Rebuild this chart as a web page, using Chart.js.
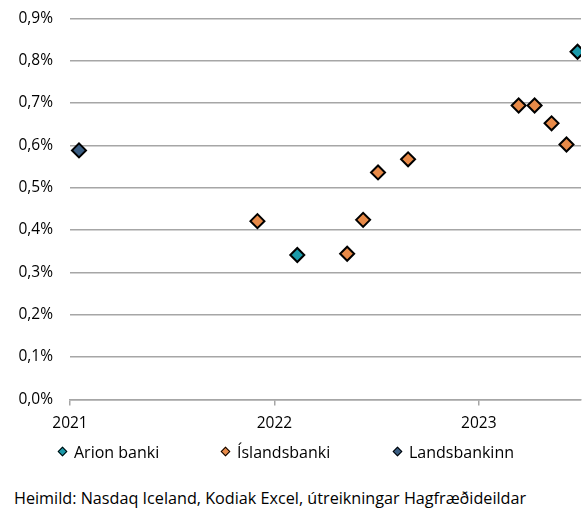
<!DOCTYPE html>
<html>
<head>
<meta charset="utf-8">
<script src="https://cdn.jsdelivr.net/npm/chart.js@4/dist/chart.umd.min.js"></script>
<style>
    body { margin: 0; background: #fff; font-family: "Open Sans", sans-serif; color: #000; }
    #wrap { position: relative; width: 583px; height: 512px; overflow: hidden; }
    #chart-box { position: absolute; left: 0; top: -8px; width: 590px; height: 458px; }
    .legend-item { position: absolute; top: 442px; font-size: 16px; line-height: 20px; white-space: nowrap; }
    .legend-item i {
        position: absolute; left: -15px; top: 6px; width: 5px; height: 5px;
        border: 1.5px solid #000; transform: rotate(45deg);
    }
    #source { position: absolute; left: 14px; top: 488px; font-size: 16.2px; line-height: 20px; white-space: nowrap; }
</style>
</head>
<body>
<div id="wrap">
    <div id="chart-box"><canvas id="chart"></canvas></div>
    <div id="legend"></div>
    <div id="source"></div>
</div>
<script>
// dates (year as decimal) and values in %
const arionDates = [2022.112, 2023.483];
const arionValues = [0.341, 0.821];

const islandsDates = [2021.917, 2022.356, 2022.434, 2022.507, 2022.654, 2023.195, 2023.273, 2023.356, 2023.429];
const islandsValues = [0.421, 0.344, 0.424, 0.536, 0.567, 0.694, 0.694, 0.652, 0.602];

const landsDates = [2021.044];
const landsValues = [0.588];

const yearTicks = [2021, 2022, 2023];
const seriesNames = ['Arion banki', 'Íslandsbanki', 'Landsbankinn'];
const seriesColors = ['#1b9aaa', '#e88a48', '#3a5d82'];
const sourceText = 'Heimild: Nasdaq Iceland, Kodiak Excel, útreikningar Hagfræðideildar';

Chart.defaults.font.family = '"Open Sans", sans-serif';
Chart.defaults.font.size = 15.5;
Chart.defaults.color = '#000';

function toPoints(dates, values) {
    return dates.map((d, i) => ({ x: d, y: values[i] }));
}

function makeSet(label, dates, values, color) {
    return {
        label: label,
        data: toPoints(dates, values),
        pointStyle: 'rectRot',
        pointRadius: 7,
        pointHoverRadius: 7,
        backgroundColor: color,
        borderColor: '#000',
        borderWidth: 2,
        showLine: false
    };
}

const ctx = document.getElementById('chart').getContext('2d');
const chart = new Chart(ctx, {
    type: 'scatter',
    data: {
        datasets: [
            makeSet(seriesNames[0], arionDates, arionValues, seriesColors[0]),
            makeSet(seriesNames[1], islandsDates, islandsValues, seriesColors[1]),
            makeSet(seriesNames[2], landsDates, landsValues, seriesColors[2])
        ]
    },
    options: {
        responsive: true,
        maintainAspectRatio: false,
        animation: false,
        layout: { padding: { left: 14, right: 1, top: 0, bottom: 8 } },
        scales: {
            x: {
                type: 'linear',
                min: 2021,
                max: 2023.5,
                afterBuildTicks: (axis) => {
                    axis.ticks = yearTicks.map(v => ({ value: v }));
                },
                ticks: {
                    padding: 9,
                    maxRotation: 0,
                    callback: (v) => String(v)
                },
                grid: {
                    drawOnChartArea: false,
                    drawTicks: true,
                    tickLength: 6,
                    tickColor: '#a6a6a6',
                    lineWidth: 1.5
                },
                border: { color: '#a6a6a6', width: 1.5 }
            },
            y: {
                min: 0,
                max: 0.9,
                afterFit: (axis) => { axis.width = 56; },
                ticks: {
                    stepSize: 0.1,
                    padding: 17,
                    callback: (v) => v.toFixed(1).replace('.', ',') + '%'
                },
                grid: {
                    color: '#a6a6a6',
                    lineWidth: 1.5,
                    drawTicks: false
                },
                border: { display: false }
            }
        },
        plugins: {
            tooltip: { enabled: false },
            legend: { display: false }
        }
    }
});

// legend and source note under the chart
const legendLeft = [74, 237, 409];
const legendEl = document.getElementById('legend');
seriesNames.forEach((name, i) => {
    const item = document.createElement('div');
    item.className = 'legend-item';
    item.style.left = legendLeft[i] + 'px';
    const mark = document.createElement('i');
    mark.style.background = seriesColors[i];
    item.appendChild(mark);
    item.appendChild(document.createTextNode(name));
    legendEl.appendChild(item);
});
document.getElementById('source').textContent = sourceText;
</script>
</body>
</html>
